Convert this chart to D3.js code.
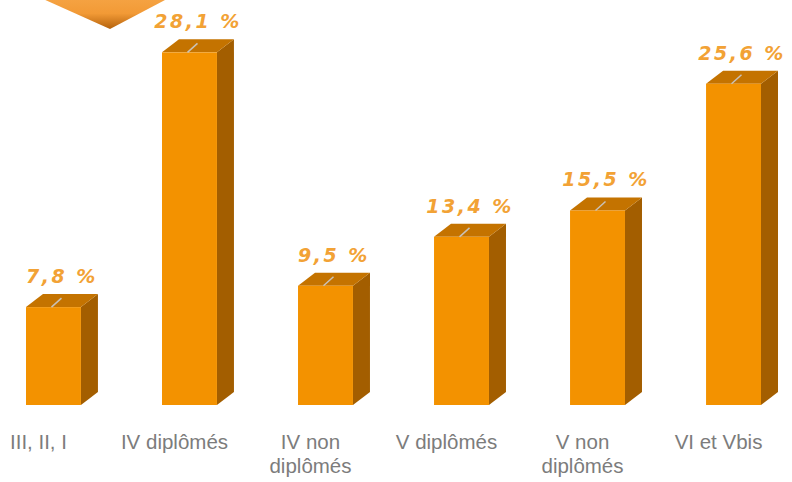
<!DOCTYPE html>
<html>
<head>
<meta charset="utf-8">
<script src="https://cdn.jsdelivr.net/npm/d3@7"></script>
<style>
  body { margin: 0; background: #fff; }
  svg { display: block; }
</style>
</head>
<body>
<svg width="792" height="482"></svg>
<script>
// Data
const categories = ["III, II, I", "IV diplômés", "IV non\ndiplômés", "V diplômés", "V non\ndiplômés", "VI et Vbis"];
const values = [7.8, 28.1, 9.5, 13.4, 15.5, 25.6];
const valueLabels = ["7,8 %", "28,1 %", "9,5 %", "13,4 %", "15,5 %", "25,6 %"];

const width = 792;
const height = 482;
const baseY = 405;
const depthX = 17;
const depthY = -13;

const svg = d3.select("svg");

// Decorative diamond cut at the top left
const defs = svg.append("defs");
const grad = defs.append("linearGradient")
    .attr("id", "diamond")
    .attr("x1", 0).attr("y1", 0).attr("x2", 0).attr("y2", 1);
grad.append("stop").attr("offset", "0%").attr("stop-color", "#f7a84a");
grad.append("stop").attr("offset", "60%").attr("stop-color", "#f29a36");
grad.append("stop").attr("offset", "100%").attr("stop-color", "#b5620c");

svg.append("path")
    .attr("d", "M23,-10 L110,29 L184,-10 Z")
    .attr("fill", "url(#diamond)");

// Scales
const x = d3.scaleBand()
    .domain(categories)
    .range([26, 761])
    .paddingInner(0.596)
    .paddingOuter(0);

const y = d3.scaleLinear()
    .domain([0, 30])
    .range([baseY, baseY - 376.5]);

const bars = svg.selectAll("g.bar")
    .data(values)
    .enter()
    .append("g")
    .attr("class", "bar");

// Side face
bars.append("path")
    .attr("d", (d, i) => {
        const x1 = x(categories[i]) + x.bandwidth();
        const top = y(d);
        return `M${x1},${baseY} L${x1},${top} L${x1 + depthX},${top + depthY} L${x1 + depthX},${baseY + depthY} Z`;
    })
    .attr("fill", "#a35e00");

// Top face
bars.append("path")
    .attr("d", (d, i) => {
        const x0 = x(categories[i]);
        const x1 = x0 + x.bandwidth();
        const top = y(d);
        return `M${x0},${top} L${x1},${top} L${x1 + depthX},${top + depthY} L${x0 + depthX},${top + depthY} Z`;
    })
    .attr("fill", "#c47300");

// Front face
bars.append("rect")
    .attr("x", (d, i) => x(categories[i]))
    .attr("y", d => y(d))
    .attr("width", x.bandwidth())
    .attr("height", d => baseY - y(d))
    .attr("fill", "#f39200");

// Leader tick on top face
bars.append("line")
    .attr("x1", (d, i) => x(categories[i]) + x.bandwidth() / 2 - 2)
    .attr("y1", d => y(d))
    .attr("x2", (d, i) => x(categories[i]) + x.bandwidth() / 2 + 8)
    .attr("y2", d => y(d) - 9)
    .attr("stroke", "#c9c2b8")
    .attr("stroke-width", 1.5);

// Value labels
bars.append("text")
    .attr("x", (d, i) => x(categories[i]) + x.bandwidth() / 2 + depthX / 2)
    .attr("y", d => y(d) - 24)
    .attr("text-anchor", "middle")
    .attr("font-family", "DejaVu Sans")
    .attr("font-weight", "bold")
    .attr("font-style", "oblique")
    .attr("font-size", 19)
    .attr("letter-spacing", 2.5)
    .attr("fill", "#f2a235")
    .text((d, i) => valueLabels[i]);

// Category labels
const catLabels = svg.selectAll("text.cat")
    .data(categories)
    .enter()
    .append("text")
    .attr("class", "cat")
    .attr("x", d => x(d) + x.bandwidth() / 2 - 15)
    .attr("y", 449)
    .attr("text-anchor", "middle")
    .attr("font-family", "Liberation Sans, Arial, sans-serif")
    .attr("font-size", 20.5)
    .attr("fill", "#7c7c7c");

catLabels.selectAll("tspan")
    .data(d => d.split("\n"))
    .enter()
    .append("tspan")
    .attr("x", function() { return d3.select(this.parentNode).attr("x"); })
    .attr("dy", (d, i) => i === 0 ? 0 : 24)
    .text(d => d);
</script>
</body>
</html>
